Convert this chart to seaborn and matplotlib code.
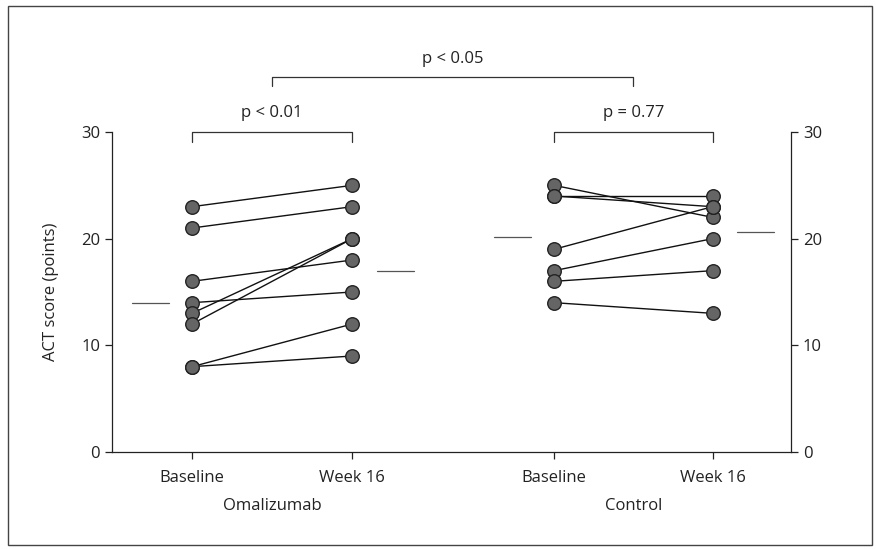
import matplotlib
matplotlib.use("Agg")
import matplotlib.pyplot as plt
import seaborn as sns
import pandas as pd
from matplotlib.patches import Rectangle

# ---- data ----
groups = ["Omalizumab", "Control"]
timepoints = ["Baseline", "Week 16"]
oma_baseline = [23, 21, 16, 14, 13, 12, 8, 8]
oma_week16 = [25, 23, 18, 15, 20, 20, 12, 9]
ctl_baseline = [25, 24, 24, 19, 17, 16, 14]
ctl_week16 = [22, 24, 23, 23, 20, 17, 13]
oma_means = [14.0, 17.0]
ctl_means = [20.2, 20.6]
y_ticks = [0, 10, 20, 30]
p_within = ["p < 0.01", "p = 0.77"]
p_between = "p < 0.05"

# ---- layout ----
xpos = {("Omalizumab", "Baseline"): 0.0, ("Omalizumab", "Week 16"): 1.0,
        ("Control", "Baseline"): 2.26, ("Control", "Week 16"): 3.25}

rows = []
sid = 0
for g, base, wk in [("Omalizumab", oma_baseline, oma_week16), ("Control", ctl_baseline, ctl_week16)]:
    for b, w in zip(base, wk):
        rows.append(dict(subject=sid, group=g, time="Baseline", x=xpos[(g, "Baseline")], score=b))
        rows.append(dict(subject=sid, group=g, time="Week 16", x=xpos[(g, "Week 16")], score=w))
        sid += 1
df = pd.DataFrame(rows)

sns.set_theme(style="white")
plt.rcParams["font.family"] = ["Open Sans", "DejaVu Sans"]
txt = "#222222"

fig = plt.figure(figsize=(8.76, 5.49), dpi=100)
ax = fig.add_axes([112/876, 1-452/549, (791-112)/876, (452-132)/549])

sns.lineplot(data=df, x="x", y="score", units="subject", estimator=None,
             color="#111111", lw=1.0, ax=ax, legend=False)
sns.scatterplot(data=df, x="x", y="score", color="#656565", edgecolor="#222222",
                linewidth=1.0, s=95, ax=ax, legend=False, zorder=5)

# mean lines
for g, means in [("Omalizumab", oma_means), ("Control", ctl_means)]:
    for t, m, off in zip(timepoints, means, [-0.26, 0.27]):
        c = xpos[(g, t)] + off
        ax.plot([c - 0.115, c + 0.115], [m, m], color="#555555", lw=0.9)

ax.set_xlim(-0.5, 3.74)
ax.set_ylim(0, 30)
ax.set_yticks(y_ticks)
ax.set_xticks([xpos[(g, t)] for g in groups for t in timepoints])
ax.set_xticklabels([t for g in groups for t in timepoints], fontsize=12, color=txt)
ax.tick_params(axis="both", direction="out", length=5, width=0.9, color="#222222",
               labelsize=12, labelcolor=txt, left=True, bottom=True)
ax.tick_params(axis="x", pad=8)
ax.set_yticklabels([str(v) for v in y_ticks])
ax.set_xlabel("")
ax.set_ylabel("ACT score (points)", fontsize=12, color=txt, labelpad=16)

for s in ["left", "bottom", "right"]:
    ax.spines[s].set_visible(True)
    ax.spines[s].set_color("#222222")
    ax.spines[s].set_linewidth(0.9)
ax.spines["top"].set_visible(False)

ax2 = ax.twinx()
ax2.set_ylim(0, 30)
ax2.set_yticks(y_ticks)
ax2.tick_params(axis="y", direction="out", length=5, width=0.9, color="#222222",
                labelsize=12, labelcolor=txt, right=True)
for s in ax2.spines.values():
    s.set_visible(False)
ax2.grid(False)

# group labels
for g in groups:
    c = (xpos[(g, "Baseline")] + xpos[(g, "Week 16")]) / 2
    ax.text(c, -0.145, g, transform=ax.get_xaxis_transform(), ha="center", va="top",
            fontsize=12, color=txt)

# brackets
def bracket(x0, x1, y, drop, label, ty):
    ax.plot([x0, x0, x1, x1], [y - drop, y, y, y - drop], color="#333333", lw=0.9, clip_on=False)
    ax.text((x0 + x1) / 2, ty, label, ha="center", va="center", fontsize=12, color=txt)

bracket(xpos[("Omalizumab", "Baseline")], xpos[("Omalizumab", "Week 16")], 30.0, 0.9, p_within[0], 31.8)
bracket(xpos[("Control", "Baseline")], xpos[("Control", "Week 16")], 30.0, 0.9, p_within[1], 31.8)
c_oma = (xpos[("Omalizumab", "Baseline")] + xpos[("Omalizumab", "Week 16")]) / 2
c_ctl = (xpos[("Control", "Baseline")] + xpos[("Control", "Week 16")]) / 2
bracket(c_oma, c_ctl, 35.2, 0.9, p_between, 36.8)

fig.patches.append(Rectangle((8/876, 4/549), 864/876, 539/549, transform=fig.transFigure,
                             fill=False, edgecolor="#444444", lw=1.0))

fig.savefig("out.png", dpi=100)
